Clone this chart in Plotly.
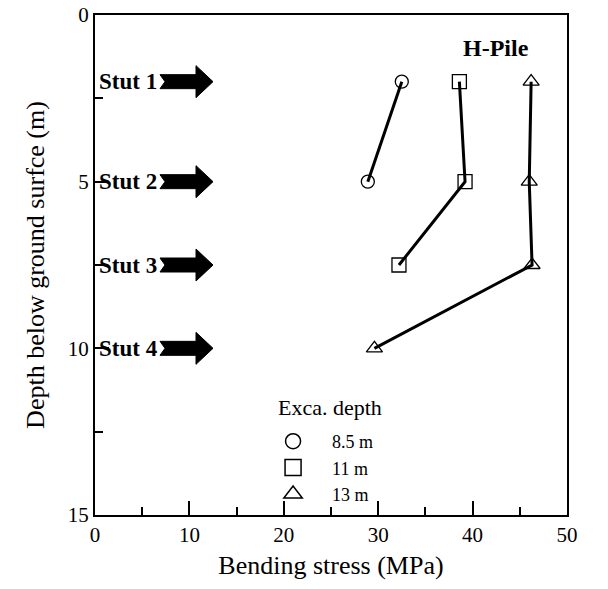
import plotly.graph_objects as go

# ---- data ----
exc_labels = ["8.5 m", "11 m", "13 m"]
depth_85 = [2.0, 5.0]
stress_85 = [32.5, 28.9]
depth_11 = [2.0, 5.0, 7.5]
stress_11 = [38.6, 39.2, 32.2]
depth_13 = [2.0, 5.0, 7.5, 10.0]
stress_13 = [46.2, 46.0, 46.3, 29.6]
strut_names = ["Stut 1", "Stut 2", "Stut 3", "Stut 4"]
strut_depths = [2.0, 5.0, 7.5, 10.0]
x_ticks = [0, 10, 20, 30, 40, 50]
y_ticks = [0, 5, 10, 15]

FONT = "Liberation Serif, Times New Roman, serif"
symbols = ["circle-open", "square-open", "triangle-up-open"]
sizes = [13, 14, 14]
series = [(stress_85, depth_85), (stress_11, depth_11), (stress_13, depth_13)]

fig = go.Figure()
for (xs, ys), sym, sz in zip(series, symbols, sizes):
    fig.add_trace(go.Scatter(
        x=xs, y=ys, mode="lines+markers", showlegend=False,
        line=dict(color="black", width=3),
        marker=dict(symbol=sym, size=sz, color="black", line=dict(width=1.3, color="black")),
    ))
for lab, sym, sz in zip(exc_labels, symbols, sizes):
    fig.add_trace(go.Scatter(
        x=[None], y=[None], mode="markers", name=lab,
        marker=dict(symbol=sym, size=sz + 2, color="black", line=dict(width=1.5, color="black")),
    ))

# strut arrows and labels
arrow_path = "M 65,7 L 101,7 L 101,16 L 118,0 L 101,-16 L 101,-7 L 65,-7 L 70,0 Z"
for name, d in zip(strut_names, strut_depths):
    fig.add_shape(type="path", xref="x", yref="y", xsizemode="pixel", ysizemode="pixel",
                  xanchor=0, yanchor=d, path=arrow_path,
                  fillcolor="black", line=dict(color="black", width=1))
    fig.add_annotation(x=0, y=d, xref="x", yref="y", text="<b>%s</b>" % name,
                       showarrow=False, xanchor="left", yanchor="middle", xshift=2,
                       font=dict(family=FONT, size=23, color="black"))

fig.add_annotation(x=42.5, y=1.0, xref="x", yref="y", text="<b>H-Pile</b>",
                   showarrow=False, xanchor="center", yanchor="middle",
                   font=dict(family=FONT, size=24, color="black"))

fig.add_annotation(x=24.9, y=11.76, xref="x", yref="y", text="Exca. depth",
                   showarrow=False, xanchor="center", yanchor="middle",
                   font=dict(family=FONT, size=22, color="black"))

fig.update_layout(
    width=608, height=589,
    margin=dict(l=95, r=41, t=15, b=74),
    plot_bgcolor="white", paper_bgcolor="white",
    font=dict(family=FONT, color="black"),
    legend=dict(x=0.337, y=0.184, xanchor="left", yanchor="top",
                bgcolor="rgba(0,0,0,0)",
                font=dict(family=FONT, size=18), itemwidth=68, tracegroupgap=0),
    xaxis=dict(range=[0, 50], tickvals=x_ticks, ticks="inside", ticklen=14, tickwidth=2,
               tickcolor="black", showline=True, linecolor="black", linewidth=2, mirror=True,
               showgrid=False, zeroline=False, automargin=False,
               minor=dict(dtick=5, ticks="inside", ticklen=8, tickwidth=2, tickcolor="black", showgrid=False),
               tickfont=dict(family=FONT, size=21),
               title=dict(text="Bending stress (MPa)", font=dict(family=FONT, size=26), standoff=10)),
    yaxis=dict(range=[15, 0], tickvals=y_ticks, ticks="inside", ticklen=14, tickwidth=2,
               tickcolor="black", showline=True, linecolor="black", linewidth=2, mirror=True,
               showgrid=False, zeroline=False, automargin=False,
               minor=dict(dtick=2.5, ticks="inside", ticklen=8, tickwidth=2, tickcolor="black", showgrid=False),
               tickfont=dict(family=FONT, size=21),
               title=dict(text="Depth below ground surfce (m)", font=dict(family=FONT, size=26), standoff=16)),
)

fig.write_html("out.html")
